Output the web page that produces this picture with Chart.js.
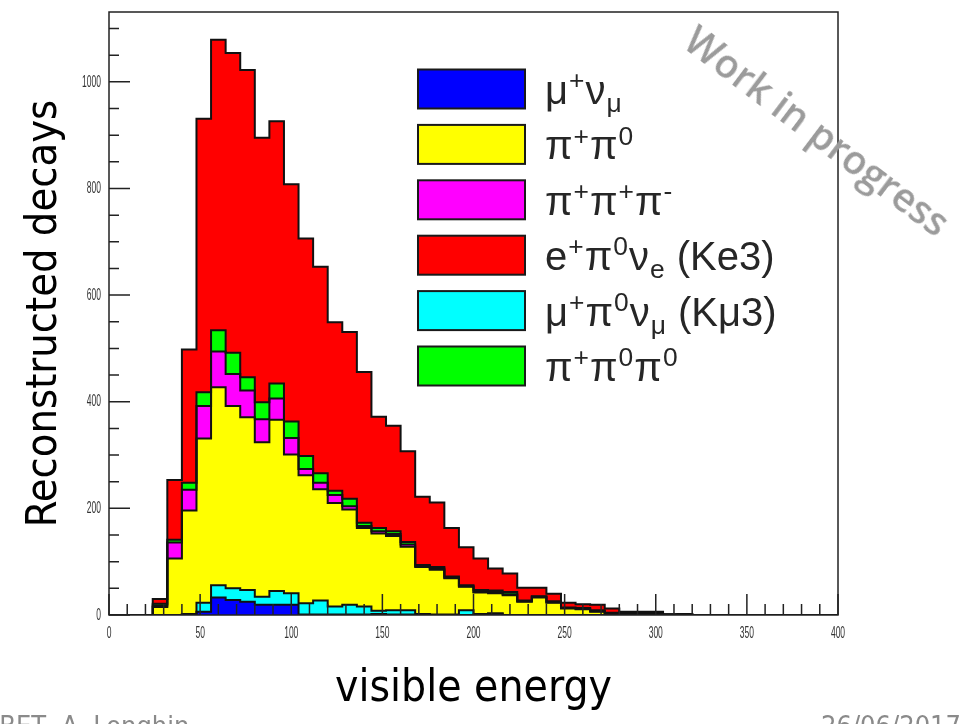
<!DOCTYPE html>
<html>
<head>
<meta charset="utf-8">
<title>Visible energy</title>
<script src="https://cdn.jsdelivr.net/npm/chart.js@4.4.0/dist/chart.umd.min.js"></script>
<style>
  html, body { margin: 0; padding: 0; background: #fff; }
  #wrap { position: relative; width: 963px; height: 724px; overflow: hidden; }
  #chart { position: absolute; left: 0; top: 0; }
  .wip {
    position: absolute; left: 818px; top: 130px;
    transform: translate(-50%, -50%) rotate(37deg);
    font: 600 39px 'Open Sans', sans-serif; color: #9b9b9b; white-space: nowrap;
  }
  .foot {
    position: absolute; top: 710px;
    font: 27px 'DejaVu Sans Condensed', sans-serif; color: #8a8a8a; white-space: nowrap;
  }
</style>
</head>
<body>
<div id="wrap">
  <canvas id="chart" width="963" height="724"></canvas>
  <div class="wip">Work in progress</div>
  <div class="foot" style="left:-52px">ENUBET, A. Longhin</div>
  <div class="foot" style="left:821px">26/06/2017</div>
</div>
<script>
// histogram bin edges (visible energy), 8 units per bin
const binEdges = [0, 8, 16, 24, 32, 40, 48, 56, 64, 72, 80, 88, 96, 104, 112, 120, 128, 136, 144, 152,
  160, 168, 176, 184, 192, 200, 208, 216, 224, 232, 240, 248, 256, 264, 272, 280, 288, 296, 304, 312,
  320, 328, 336, 344, 352, 360, 368, 376, 384, 392, 400];

// decays per bin for each channel, listed bottom of the stack first
const muNu = [0, 0, 0, 0, 0, 2, 6, 33, 28, 25, 19, 19, 19, 1, 1, 1, 1, 1, 2, 1,
  1, 1, 0, 0, 0, 1, 3, 0, 0, 0, 0, 0, 0, 0, 0, 0, 0, 0, 0, 0,
  0, 0, 0, 0, 0, 0, 0, 0, 0, 0];
const kmu3 = [0, 0, 0, 0, 0, 0, 17, 23, 22, 22, 15, 26, 22, 21, 26, 15, 18, 15, 6, 8,
  8, 1, 1, 1, 9, 1, 0, 0, 0, 0, 0, 0, 0, 0, 0, 0, 0, 0, 0, 0,
  0, 0, 0, 0, 0, 0, 0, 0, 0, 0];
const pipi0 = [0, 0, 0, 15, 106, 194, 308, 371, 342, 324, 290, 321, 260, 240, 209, 194, 179, 147, 145, 139,
  119, 88, 84, 68, 44, 40, 38, 37, 25, 33, 23, 12, 11, 6, 2, 2, 2, 2, 1, 1,
  0, 0, 0, 0, 0, 0, 0, 0, 0, 0];
const pipipi = [0, 0, 0, 3, 30, 39, 61, 67, 60, 50, 43, 40, 31, 12, 12, 15, 6, 4, 4, 4,
  4, 2, 2, 1, 1, 1, 2, 2, 1, 1, 1, 1, 1, 1, 1, 1, 1, 1, 0, 0,
  0, 0, 0, 0, 0, 0, 0, 0, 0, 0];
const pipi0pi0 = [0, 0, 0, 3, 5, 13, 26, 40, 40, 25, 32, 28, 31, 24, 18, 8, 14, 6, 6, 5,
  5, 2, 3, 2, 2, 4, 3, 4, 1, 1, 2, 1, 1, 2, 1, 1, 1, 1, 0, 1,
  0, 0, 0, 0, 0, 0, 0, 0, 0, 0];
const ke3 = [0, 0, 0, 9, 112, 250, 513, 545, 562, 576, 496, 492, 445, 408, 387, 316, 313, 283, 209, 198,
  170, 128, 121, 91, 71, 59, 41, 35, 24, 16, 14, 9, 7, 10, 8, 2, 2, 2, 0, 0,
  0, 0, 0, 0, 0, 0, 0, 0, 0, 0];

// labels use ^{} / _{} for super- and subscripts
const seriesValues = [muNu, kmu3, pipi0, pipipi, pipi0pi0, ke3];
const seriesLabels = ['μ^{+}ν_{μ}', 'μ^{+}π^{0}ν_{μ} (Kμ3)', 'π^{+}π^{0}', 'π^{+}π^{+}π^{-}',
  'π^{+}π^{0}π^{0}', 'e^{+}π^{0}ν_{e} (Ke3)'];
const seriesColors = ['#0000ff', '#00ffff', '#ffff00', '#ff00ff', '#00ff00', '#ff0000'];
const legendOrder = [0, 2, 3, 5, 1, 4];

const xTicks = [0, 50, 100, 150, 200, 250, 300, 350, 400];
const yTicks = [0, 200, 400, 600, 800, 1000];

// one point per bin edge; with 'before' stepping the line runs flat at the
// previous point's value and drops at the next edge
function stepPoints(values) {
  return binEdges.map((x, i) => ({ x: x, y: i < values.length ? values[i] : 0 }));
}

const datasets = seriesValues.map((values, i) => ({
  label: seriesLabels[i],
  data: stepPoints(values),
  backgroundColor: seriesColors[i],
  borderColor: '#111',
  borderWidth: 2,
  borderJoinStyle: 'miter',
  fill: i === 0 ? 'origin' : '-1',
  stepped: 'before',
  pointRadius: 0,
  tension: 0
}));

// draws super/subscript markup like e^{+}π^{0}
function drawMarkup(ctx, text, x, y, size) {
  const parts = text.match(/[\^_]\{[^}]*\}|[^\^_]+/g);
  ctx.textAlign = 'left';
  ctx.textBaseline = 'alphabetic';
  for (const p of parts) {
    let s = size, dy = 0, t = p;
    if (p[0] === '^') { s = size * 0.66; dy = -size * 0.37; t = p.slice(2, -1); }
    else if (p[0] === '_') { s = size * 0.66; dy = size * 0.2; t = p.slice(2, -1); }
    ctx.font = s + 'px "Liberation Sans", Arial, sans-serif';
    ctx.fillText(t, x, y + dy);
    x += ctx.measureText(t).width + 1;
  }
}

// narrow tick labels
function drawNarrow(ctx, text, x, y, align) {
  ctx.save();
  ctx.translate(x, y);
  ctx.scale(0.5, 1);
  ctx.textAlign = align;
  ctx.fillText(text, 0, 0);
  ctx.restore();
}

const frameAxes = {
  id: 'frameAxes',
  afterDatasetsDraw(chart) {
    const { ctx, chartArea: a, scales: { x, y } } = chart;
    ctx.save();
    ctx.strokeStyle = '#222';
    ctx.lineWidth = 1.5;
    ctx.beginPath();
    for (let v = 0; v <= 400; v += 10) {
      const px = x.getPixelForValue(v);
      const len = v % 50 === 0 ? 21 : 11;
      ctx.moveTo(px, a.bottom);
      ctx.lineTo(px, a.bottom - len);
    }
    for (let v = 0; v <= 1100; v += 50) {
      const py = y.getPixelForValue(v);
      const len = v % 200 === 0 ? 21 : 10;
      ctx.moveTo(a.left, py);
      ctx.lineTo(a.left + len, py);
    }
    ctx.stroke();
    ctx.strokeRect(a.left, a.top, a.right - a.left, a.bottom - a.top);

    ctx.fillStyle = '#333';
    ctx.font = '17px "Liberation Sans", Arial, sans-serif';
    ctx.textBaseline = 'top';
    xTicks.forEach(v => drawNarrow(ctx, String(v), x.getPixelForValue(v), a.bottom + 10, 'center'));
    ctx.textBaseline = 'middle';
    yTicks.forEach(v => drawNarrow(ctx, String(v), a.left - 8, y.getPixelForValue(v), 'right'));
    ctx.restore();
  }
};

const markupLegend = {
  id: 'markupLegend',
  afterDraw(chart) {
    const ctx = chart.ctx;
    const boxL = 418, boxW = 107, boxH = 39, top = 89, step = 55.4, textX = 545;
    ctx.save();
    legendOrder.forEach((di, row) => {
      const ds = chart.data.datasets[di];
      const cy = top + row * step;
      ctx.fillStyle = ds.backgroundColor;
      ctx.fillRect(boxL, cy - boxH / 2, boxW, boxH);
      ctx.lineWidth = 2;
      ctx.strokeStyle = '#1a1a1a';
      ctx.strokeRect(boxL, cy - boxH / 2, boxW, boxH);
      ctx.fillStyle = '#262626';
      drawMarkup(ctx, ds.label, textX, cy + 15, 40);
    });
    ctx.restore();
  }
};

new Chart(document.getElementById('chart'), {
  type: 'line',
  data: { datasets: datasets },
  plugins: [frameAxes, markupLegend],
  options: {
    responsive: false,
    devicePixelRatio: 1,
    animation: false,
    events: [],
    layout: { padding: { left: 0, top: 12, right: 125, bottom: 0 } },
    plugins: {
      legend: { display: false },
      tooltip: { enabled: false },
      filler: { drawTime: 'beforeDatasetsDraw' }
    },
    scales: {
      x: {
        type: 'linear',
        min: 0,
        max: 400,
        grid: { display: false, drawTicks: false },
        border: { display: false },
        ticks: { display: false, stepSize: 50 },
        title: {
          display: true,
          text: 'visible energy',
          color: '#000',
          font: { family: 'DejaVu Sans Condensed', size: 44 },
          padding: { top: 0, bottom: 8 }
        },
        afterFit(scale) { scale.height = 109; }
      },
      y: {
        stacked: true,
        min: 0,
        max: 1131,
        grid: { display: false, drawTicks: false },
        border: { display: false },
        ticks: { display: false, stepSize: 200 },
        title: {
          display: true,
          text: 'Reconstructed decays',
          color: '#000',
          font: { family: 'DejaVu Sans Condensed', size: 43 },
          padding: { top: 19, bottom: 0 }
        },
        afterFit(scale) { scale.width = 109; }
      }
    }
  }
});
</script>
</body>
</html>
